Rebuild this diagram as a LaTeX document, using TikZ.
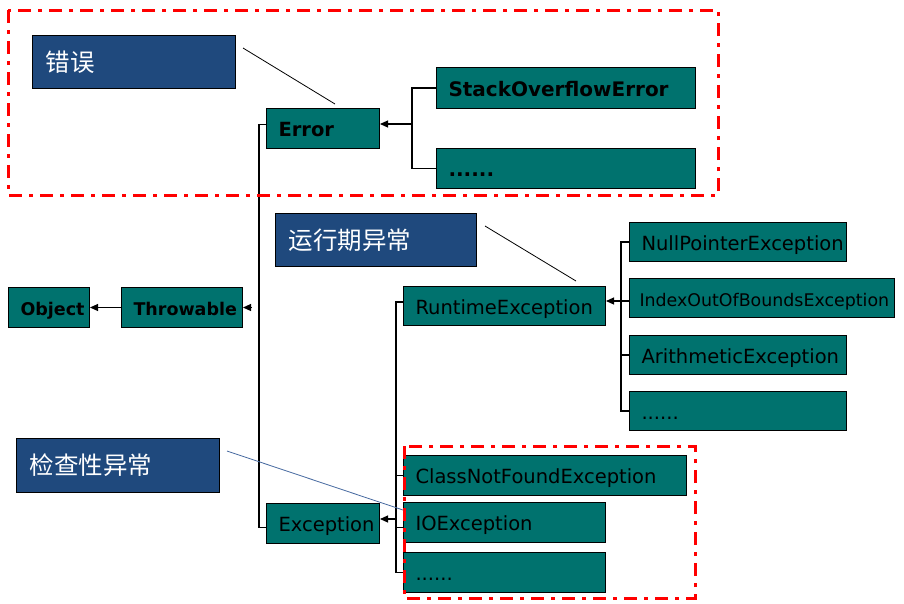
\documentclass[tikz,border=0pt]{standalone}
\usepackage{fontspec}
\setmainfont{DejaVu Sans}
\newfontfamily\cjk{Noto Sans CJK SC}
\usetikzlibrary{arrows.meta}
\definecolor{tealbox}{RGB}{0,114,110}
\definecolor{navybox}{RGB}{31,73,125}
\definecolor{calloutblue}{RGB}{70,105,160}
\tikzset{
  fsz/.style={font=\fontsize{#1}{#1}\selectfont},
  cls/.style={draw=black, line width=1pt, fill=tealbox, anchor=north west,
    inner xsep=12pt, inner ysep=0pt, text height=18pt, text depth=2pt,
    align=left, text=black, fsz=19.5},
  clsb/.style={cls, font=\fontsize{#1}{#1}\selectfont\bfseries},
  tag/.style={draw=black, line width=1pt, fill=navybox, anchor=north west,
    inner xsep=13pt, inner ysep=0pt, align=left, text=white,
    font=\cjk\fontsize{24.5}{24.5}\selectfont},
  conn/.style={draw=black, line width=1.1pt},
  arr/.style={conn, -{Triangle[length=8pt,width=7pt]}},
  callout/.style={draw=black, line width=0.8pt},
  redbox/.style={draw=red, line width=3pt, dash pattern=on 13pt off 7pt on 4pt off 7pt}
}
\begin{document}
\begin{tikzpicture}[x=1pt,y=-1pt]
\useasboundingbox[fill=white] (0,0) rectangle (904,603);
% label tags
\node[tag, text width=177pt, minimum height=53pt] (tagErr) at (32,35) {错误};
\node[tag, text width=175pt, minimum height=53pt] (tagRt) at (275,213) {运行期异常};
\node[tag, text width=177pt, minimum height=54pt] (tagChk) at (16,438) {检查性异常};
% class boxes
\node[clsb=17.5, text width=57pt, minimum height=40pt] (Object) at (8,287) {Object};
\node[clsb=17.5, text width=97pt, minimum height=40pt] (Throwable) at (121,287) {Throwable};
\node[clsb=19.5, text width=89pt, minimum height=40pt] (Error) at (266,108) {Error};
\node[clsb=20, text width=235pt, minimum height=41pt] (SOE) at (436,67) {StackOverflowError};
\node[clsb=20, text width=235pt, minimum height=40pt] (ErrDots) at (436,148) {......};
\node[cls, text width=178pt, minimum height=39pt] (Runtime) at (403,286) {RuntimeException};
\node[cls, text width=193pt, minimum height=39pt] (NPE) at (629,222) {NullPointerException};
\node[cls, fsz=17.4, inner xsep=10pt, text width=245pt, minimum height=39pt] (IOOBE) at (629,278) {IndexOutOfBoundsException};
\node[cls, text width=193pt, minimum height=39pt] (Arith) at (629,335) {ArithmeticException};
\node[cls, text width=193pt, minimum height=39pt] (RtDots) at (629,391) {......};
\node[cls, text width=259pt, minimum height=40pt] (CNF) at (403,455) {ClassNotFoundException};
\node[cls, text width=178pt, minimum height=40pt] (IOE) at (403,502) {IOException};
\node[cls, text width=178pt, minimum height=40pt] (ExcDots) at (403,552) {......};
\node[cls, text width=89pt, minimum height=40pt] (Exception) at (266,503) {Exception};
% connectors
\draw[arr] (Throwable.west) -- (Object.east);
\coordinate (tr) at (259,308);
\draw[conn] ([yshift=4pt]Error.west) -| (tr) |- ([yshift=-4pt]Exception.west);
\draw[arr] ([xshift=8pt]Throwable.east) -- (Throwable.east);
\coordinate (eb) at (412,124);
\draw[conn] (SOE.west) -| (eb) |- (ErrDots.west);
\draw[arr] (eb) -- (eb -| Error.east);
\coordinate (rb) at (621,301);
\draw[conn] (NPE.west) -| (rb) |- (RtDots.west);
\draw[conn] (rb) -- (rb -| IOOBE.west);
\draw[conn] (Arith.west) -| (rb);
\draw[arr] (rb) -- (rb -| Runtime.east);
\coordinate (xb) at (396,519);
\draw[conn] ([yshift=4pt]Runtime.west) -| (xb) |- (ExcDots.west);
\draw[conn] (CNF.west) -| (xb);
\draw[conn] ([yshift=-5pt]IOE.west) -| (xb);
\draw[arr] (xb) -- (xb -| Exception.east);
% callout lines
\coordinate (c1a) at (243,48); \coordinate (c1b) at (335,104);
\draw[callout] (c1a) -- (c1b);
\coordinate (c2a) at (485,226); \coordinate (c2b) at (576,281);
\draw[callout] (c2a) -- (c2b);
\coordinate (c3a) at (227,451); \coordinate (c3b) at (403,510);
\draw[callout, draw=calloutblue] (c3a) -- (c3b);
% red groups
\draw[redbox] (8,10) rectangle (718,195);
\draw[redbox] (404,446) rectangle (695,598);
\end{tikzpicture}
\end{document}
